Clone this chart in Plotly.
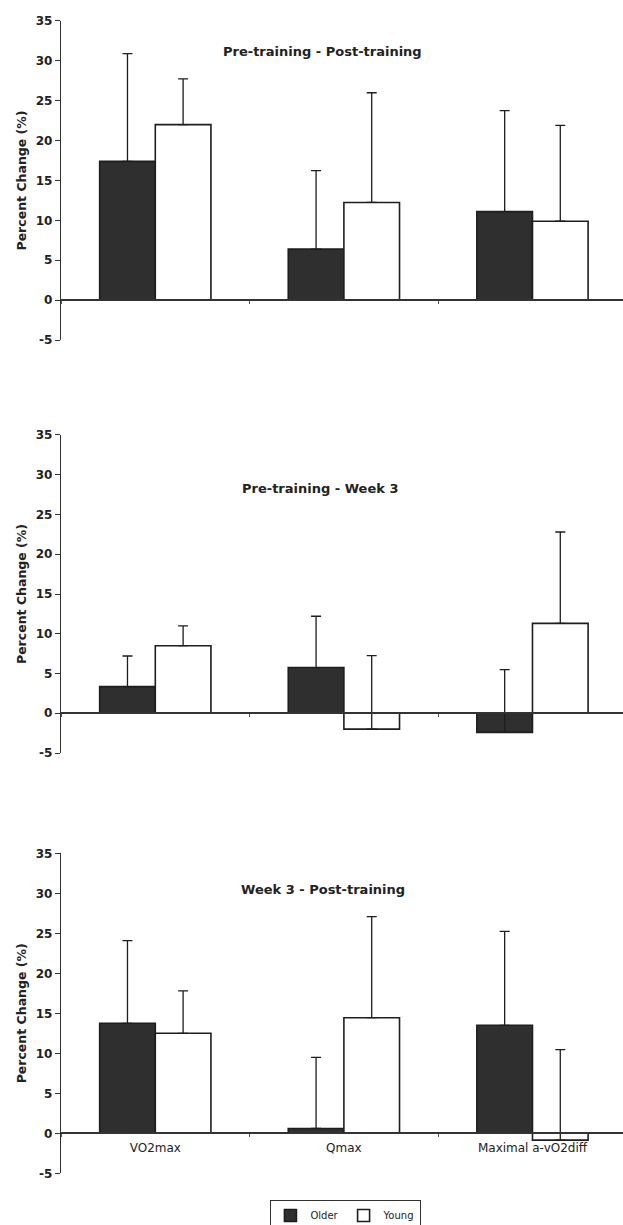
import plotly.graph_objects as go

# ---- data ----
categories = ["VO2max", "Qmax", "Maximal a-vO2diff"]
panel_titles = ["Pre-training - Post-training", "Pre-training - Week 3", "Week 3 - Post-training"]
series_names = ["Older", "Young"]

# Panel 1: Pre-training - Post-training
older_1 = [17.4, 6.4, 11.1]
older_1_top = [30.9, 16.25, 23.75]
young_1 = [22.0, 12.25, 9.9]
young_1_top = [27.75, 26.0, 21.9]

# Panel 2: Pre-training - Week 3
older_2 = [3.35, 5.75, -2.4]
older_2_top = [7.2, 12.2, 5.5]
young_2 = [8.5, -2.0, 11.3]
young_2_top = [11.0, 7.25, 22.8]

# Panel 3: Week 3 - Post-training
older_3 = [13.75, 0.6, 13.5]
older_3_top = [24.1, 9.5, 25.25]
young_3 = [12.5, 14.45, -0.85]
young_3_top = [17.8, 27.1, 10.45]

y_ticks = [-5, 0, 5, 10, 15, 20, 25, 30, 35]

panels = [
    (older_1, older_1_top, young_1, young_1_top),
    (older_2, older_2_top, young_2, young_2_top),
    (older_3, older_3_top, young_3, young_3_top),
]

# ---- styling ----
W, H = 623, 1225
ML = 61
FONT = "DejaVu Sans"
DARK = "#2f2f2f"
LINE = "#1e1e1e"
y_domains = [(0.7224, 0.9829), (0.3853, 0.6449), (0.0422, 0.3034)]
y_range = [-5, 35]
title_pos = [(0.466, 0.9576), (0.461, 0.6016), (0.467, 0.2735)]

fig = go.Figure()
layout = dict(
    width=W, height=H,
    margin=dict(l=ML, r=0, t=0, b=0, autoexpand=False),
    paper_bgcolor="white", plot_bgcolor="rgba(0,0,0,0)",
    barmode="group", bargap=0.41, bargroupgap=0,
    font=dict(family=FONT, color="#222"),
    showlegend=True,
    legend=dict(
        orientation="h", x=0.507, y=0.0204, xanchor="center", yanchor="top",
        bordercolor="#333", borderwidth=1, bgcolor="white",
        font=dict(size=10, family=FONT, color="#222"), itemwidth=30,
        tracegroupgap=0,
    ),
)

annotations = []
for i, (older, older_top, young, young_top) in enumerate(panels):
    n = "" if i == 0 else str(i + 1)
    xa, ya = "x" + n, "y" + n
    for name, vals, tops, color in [
        (series_names[0], older, older_top, DARK),
        (series_names[1], young, young_top, "white"),
    ]:
        fig.add_trace(go.Bar(
            x=categories, y=vals, name=name, xaxis=xa, yaxis=ya,
            marker=dict(color=color, line=dict(color=LINE, width=1.6)),
            error_y=dict(type="data", symmetric=False,
                         array=[t - v for t, v in zip(tops, vals)],
                         arrayminus=[0] * len(vals),
                         color=LINE, thickness=1.3, width=5),
            showlegend=(i == 0), legendgroup=name,
        ))
    d0, d1 = y_domains[i]
    zero_pos = d0 + (0 - y_range[0]) / (y_range[1] - y_range[0]) * (d1 - d0)
    layout["xaxis" + n] = dict(
        domain=[0, 1], anchor="free", position=zero_pos, automargin=False,
        range=[-0.5, 2.48], showline=True, linecolor="#333", linewidth=1.5,
        ticks="outside", tickson="boundaries", ticklen=3, tickcolor="#555",
        showgrid=False, zeroline=False,
        showticklabels=(i == 2), ticklabelstandoff=4,
        tickfont=dict(size=12, family=FONT, color="#222"),
    )
    layout["yaxis" + n] = dict(
        domain=[d0, d1], anchor=xa, range=y_range, automargin=False,
        tickvals=y_ticks, ticktext=[str(t) for t in y_ticks],
        showline=True, linecolor="#333", linewidth=1.4,
        ticks="outside", ticklen=5, tickwidth=1.3, tickcolor="#333",
        showgrid=False, zeroline=False,
        tickfont=dict(size=12, family=FONT, color="#222", weight="bold"),
        title=dict(text="Percent Change (%)", standoff=6,
                   font=dict(size=12.5, family=FONT, color="#222", weight="bold")),
    )
    tx, ty = title_pos[i]
    annotations.append(dict(
        text=panel_titles[i], xref="paper", yref="paper", x=tx, y=ty,
        xanchor="center", yanchor="middle", showarrow=False,
        font=dict(size=13, family=FONT, color="#222", weight="bold"),
    ))

layout["annotations"] = annotations
fig.update_layout(**layout)
fig.write_html(
    "out.html",
    config={"displayModeBar": False},
    post_script="document.body.style.margin='0';document.body.style.overflow='hidden';",
)
